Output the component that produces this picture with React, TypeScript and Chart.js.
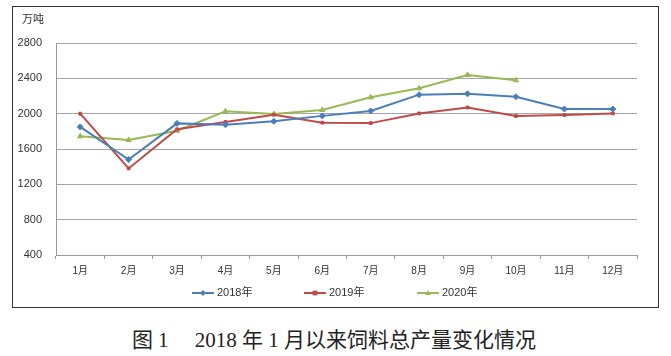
import React, { useEffect, useRef } from "react";
import { Chart, registerables } from "chart.js";

Chart.register(...registerables);

const months = ["1月", "2月", "3月", "4月", "5月", "6月", "7月", "8月", "9月", "10月", "11月", "12月"];
const s2018 = [1850, 1480, 1890, 1875, 1913, 1975, 2030, 2215, 2225, 2192, 2053, 2053];
const s2019 = [2000, 1380, 1823, 1905, 1988, 1898, 1893, 2003, 2070, 1973, 1985, 2003];
const s2020 = [1743, 1702, 1807, 2027, 1996, 2041, 2185, 2287, 2438, 2378, null, null];
const seriesNames = ["2018年", "2019年", "2020年"];
const colors = ["#4a7ebb", "#be4b48", "#98b954"];
const pointStyles = ["rectRot", "rect", "triangle"];
const yTicks = [400, 800, 1200, 1600, 2000, 2400, 2800];
const unitLabel = "万吨";
const caption = "图 1\u3000 2018 年 1 月以来饲料总产量变化情况";

const FONT = "'Liberation Sans', 'Noto Sans CJK SC', sans-serif";

function drawMarker(ctx: CanvasRenderingContext2D, style: string, x: number, y: number, r: number, color: string) {
  ctx.save();
  ctx.fillStyle = color;
  ctx.beginPath();
  if (style === "rectRot") {
    ctx.moveTo(x, y - r);
    ctx.lineTo(x + r, y);
    ctx.lineTo(x, y + r);
    ctx.lineTo(x - r, y);
  } else if (style === "rect") {
    ctx.rect(x - r * 0.8, y - r * 0.8, r * 1.6, r * 1.6);
  } else {
    ctx.moveTo(x, y - r);
    ctx.lineTo(x + r, y + r * 0.7);
    ctx.lineTo(x - r, y + r * 0.7);
  }
  ctx.closePath();
  ctx.fill();
  ctx.restore();
}

const extrasPlugin = {
  id: "extras",
  afterDraw(chart: any) {
    const ctx = chart.ctx as CanvasRenderingContext2D;
    ctx.save();
    ctx.fillStyle = "#333";
    ctx.font = `11px ${FONT}`;
    ctx.textBaseline = "middle";
    ctx.textAlign = "left";
    ctx.fillText(unitLabel, 9, 13);
    const legendX = [179, 291, 404];
    const y = 286;
    seriesNames.forEach((name, i) => {
      const x0 = legendX[i];
      ctx.strokeStyle = colors[i];
      ctx.lineWidth = 2;
      ctx.beginPath();
      ctx.moveTo(x0, y);
      ctx.lineTo(x0 + 22, y);
      ctx.stroke();
      drawMarker(ctx, pointStyles[i], x0 + 11, y, 3, colors[i]);
      ctx.fillStyle = "#333";
      ctx.fillText(name, x0 + 25, y);
    });
    ctx.restore();
  },
};

function ChartView() {
  const ref = useRef<HTMLCanvasElement | null>(null);
  useEffect(() => {
    if (!ref.current) return;
    const data = [s2018, s2019, s2020];
    const chart = new Chart(ref.current, {
      type: "line",
      data: {
        labels: months,
        datasets: data.map((d, i) => ({
          label: seriesNames[i],
          data: d,
          borderColor: colors[i],
          backgroundColor: colors[i],
          borderWidth: 2,
          pointStyle: pointStyles[i] as any,
          pointRadius: i === 1 ? 2 : 3,
          pointBorderWidth: 1,
          tension: 0,
          spanGaps: false,
        })),
      },
      options: {
        animation: false,
        responsive: false,
        events: [],
        layout: { padding: { top: 36, right: 21, bottom: 22, left: 0 } },
        plugins: { legend: { display: false }, tooltip: { enabled: false } },
        scales: {
          x: {
            offset: true,
            grid: {
              display: true,
              offset: true,
              drawOnChartArea: false,
              drawTicks: true,
              tickLength: 4,
              color: "#999",
            },
            border: { display: true, color: "#999", width: 1 },
            ticks: { color: "#333", font: { size: 10, family: FONT }, padding: 6, maxRotation: 0, autoSkip: false },
            afterFit(scale: any) {
              scale.height = 30;
            },
          },
          y: {
            min: 400,
            max: 2800,
            afterBuildTicks(scale: any) {
              scale.ticks = yTicks.map((v) => ({ value: v }));
            },
            grid: { color: "#a6a6a6", lineWidth: 1, drawTicks: false },
            border: { display: true, color: "#999", width: 1 },
            ticks: {
              color: "#333",
              font: { size: 11, family: FONT },
              padding: 14,
              callback: (v: any) => String(v),
            },
            afterFit(scale: any) {
              scale.width = 43;
            },
          },
        },
      },
      plugins: [extrasPlugin],
    });
    return () => chart.destroy();
  }, []);
  return <canvas ref={ref} width={645} height={300} style={{ display: "block", width: 645, height: 300 }} />;
}

export default function App() {
  return (
    <div style={{ position: "absolute", left: 0, top: 0, width: 671, height: 356, background: "#fff", overflow: "hidden" }}>
      <div style={{ position: "absolute", left: 12, top: 6, width: 645, height: 300, border: "1.5px solid #333" }}>
        <ChartView />
      </div>
      <div
        style={{
          position: "absolute",
          left: 0,
          top: 326,
          width: 668,
          textAlign: "center",
          fontFamily: "'Liberation Serif', 'Noto Sans CJK SC', serif",
          fontSize: 21,
          lineHeight: "28px",
          color: "#222",
          whiteSpace: "pre",
        }}
      >
        {caption}
      </div>
    </div>
  );
}
